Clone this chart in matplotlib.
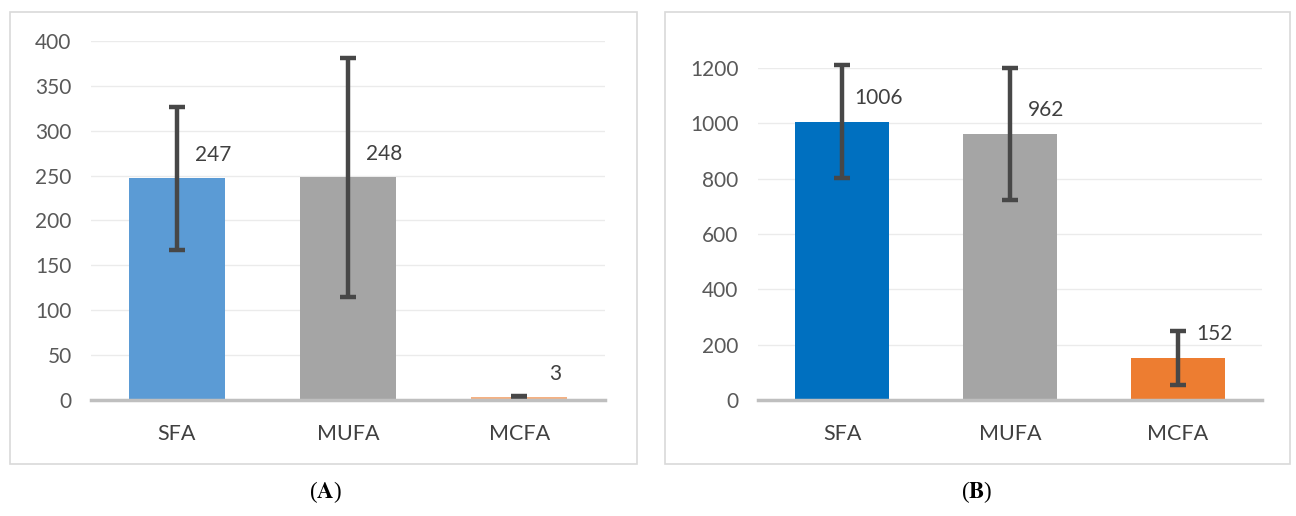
import matplotlib
matplotlib.use("Agg")
import matplotlib.pyplot as plt
from matplotlib.patches import Rectangle

# Fatty acid groups
categories = ["SFA", "MUFA", "MCFA"]

# Panel A
values_a = [247, 248, 3]
errors_a = [80, 133, 2]
colors_a = ["#5B9BD5", "#A5A5A5", "#F4B183"]
yticks_a = [0, 50, 100, 150, 200, 250, 300, 350, 400]

# Panel B
values_b = [1006, 962, 152]
errors_b = [205, 238, 96]
colors_b = ["#0070C0", "#A5A5A5", "#ED7D31"]
yticks_b = [0, 200, 400, 600, 800, 1000, 1200]

W, H, DPI = 1296, 516, 100
fig = plt.figure(figsize=(W / DPI, H / DPI), dpi=DPI)
fig.patch.set_facecolor("white")
plt.rcParams["font.family"] = ["Lato", "DejaVu Sans"]


def px_box(x0, y0, x1, y1):
    """Convert pixel box (top-left origin) to figure fraction [l, b, w, h]."""
    return [x0 / W, (H - y1) / H, (x1 - x0) / W, (y1 - y0) / H]


def frame(x0, y0, x1, y1):
    l, b, w, h = px_box(x0, y0, x1, y1)
    fig.patches.append(Rectangle((l, b), w, h, transform=fig.transFigure,
                                 fill=False, edgecolor="#D9D9D9", linewidth=1.2))


def panel(rect, values, errors, colors, yticks, ymax):
    ax = fig.add_axes(rect)
    x = range(len(categories))
    ax.bar(x, values, width=0.56, color=colors, zorder=2)
    eb = ax.errorbar(x, values, yerr=errors, fmt="none", ecolor="#474747",
                     elinewidth=3.2, capsize=5.5, capthick=3.2, zorder=3)
    for artist in eb.lines[1] + eb.lines[2]:
        artist.set_clip_on(False)
    for xi, v in zip(x, values):
        ax.annotate(str(v), (xi, v), xytext=(26, 17), textcoords="offset points",
                    ha="center", va="center", fontsize=15, color="#404040")
    ax.set_xlim(-0.5, len(categories) - 0.5)
    ax.set_ylim(0, ymax)
    ax.set_yticks(yticks)
    ax.set_xticks(list(x))
    ax.set_xticklabels(categories)
    ax.grid(axis="y", color="#EBEBEB", linewidth=1, zorder=0)
    ax.set_axisbelow(True)
    for s in ["top", "right", "left"]:
        ax.spines[s].set_visible(False)
    ax.spines["bottom"].set_color("#BFBFBF")
    ax.spines["bottom"].set_linewidth(2.5)
    ax.spines["bottom"].set_zorder(4)
    ax.tick_params(axis="both", length=0)
    ax.tick_params(axis="y", labelsize=15, labelcolor="#595959", pad=14)
    ax.tick_params(axis="x", labelsize=15.5, labelcolor="#404040", pad=17)
    return ax


frame(10, 12, 637, 464)
frame(665, 12, 1290, 464)

panel(px_box(91, 41, 605, 400), values_a, errors_a, colors_a, yticks_a, 400)
panel(px_box(758, 68, 1262, 400), values_b, errors_b, colors_b, yticks_b, 1200)

# Panel letters
for xc, letter in [(325, "A"), (977, "B")]:
    fig.text(xc / W, 1 - 492 / H, "(" + r"$\mathbf{" + letter + "}$" + ")",
             ha="center", va="center", fontsize=16.5, color="black",
             family=["Liberation Serif"], math_fontfamily="stix")

fig.savefig("out.png", dpi=DPI, facecolor="white")
